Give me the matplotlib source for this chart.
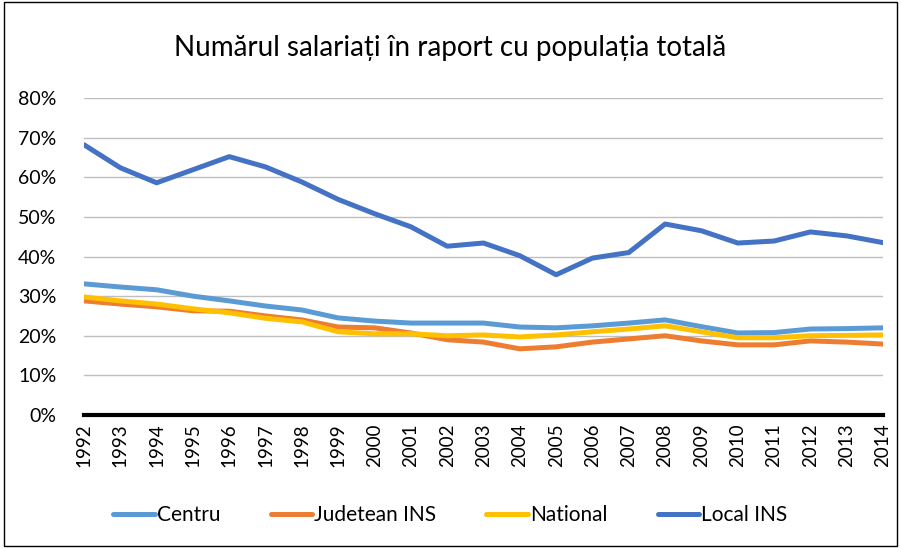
import matplotlib
matplotlib.use("Agg")
import matplotlib.pyplot as plt
from matplotlib.ticker import FuncFormatter, MultipleLocator
from matplotlib.patches import Rectangle

years = list(range(1992, 2015))
centru = [33.1, 32.3, 31.6, 30.0, 28.8, 27.5, 26.5, 24.5, 23.7, 23.2, 23.2, 23.2,
          22.2, 22.0, 22.5, 23.2, 24.0, 22.3, 20.7, 20.8, 21.7, 21.8, 22.0]
judetean = [28.8, 28.0, 27.3, 26.3, 26.2, 25.0, 24.0, 22.2, 22.0, 20.7, 19.0, 18.4,
            16.7, 17.2, 18.4, 19.2, 20.0, 18.7, 17.7, 17.7, 18.7, 18.4, 17.9]
national = [29.8, 28.8, 28.0, 26.8, 25.8, 24.4, 23.5, 21.0, 20.5, 20.5, 20.0, 20.2,
            19.7, 20.2, 21.0, 21.7, 22.5, 21.0, 19.5, 19.5, 20.0, 20.1, 20.2]
local = [68.2, 62.4, 58.6, 61.9, 65.2, 62.6, 58.8, 54.4, 50.8, 47.5, 42.6, 43.4,
         40.2, 35.4, 39.6, 41.0, 48.2, 46.5, 43.4, 43.9, 46.2, 45.2, 43.5]

series = [("Centru", centru, "#5B9BD5"),
          ("Judetean INS", judetean, "#ED7D31"),
          ("National", national, "#FFC000"),
          ("Local INS", local, "#4472C4")]

plt.rcParams['font.family'] = ['Lato', 'DejaVu Sans']
fig = plt.figure(figsize=(9.01, 5.48), dpi=100)
ax = fig.add_axes([84/901, 1-415/548, (883-84)/901, (415-98)/548])

for name, vals, col in series:
    ax.plot(years, vals, color=col, lw=3.6, label=name, solid_capstyle='round', solid_joinstyle='round')

ax.set_xlim(1992, 2014)
ax.set_ylim(0, 80)
ax.yaxis.set_major_locator(MultipleLocator(10))
ax.yaxis.set_major_formatter(FuncFormatter(lambda v, p: f"{int(round(v))}%"))
ax.set_xticks(years)
ax.set_xticklabels([str(y) for y in years], rotation=90, fontsize=13.5)
ax.tick_params(axis='y', labelsize=14, length=0, pad=20)
ax.tick_params(axis='x', length=0, pad=6)
ax.grid(axis='y', color='#BFBFBF', lw=1)
ax.set_axisbelow(True)
for s in ['top', 'right', 'left']:
    ax.spines[s].set_visible(False)
ax.spines['bottom'].set_color('black')
ax.spines['bottom'].set_linewidth(3)

fig.text(0.5, 1-48/548, "Numărul salariați în raport cu populația totală", ha='center', va='center', fontsize=20)
fig.legend(loc='center', bbox_to_anchor=(0.5, 1-515/548), ncol=4, frameon=False, fontsize=15,
           handlelength=2.0, columnspacing=2.4, handletextpad=0.1)
fig.patches.append(Rectangle((0.004, 0.004), 0.992, 0.992, transform=fig.transFigure,
                             fill=False, edgecolor='black', lw=1))
fig.savefig("out.png", dpi=100)
